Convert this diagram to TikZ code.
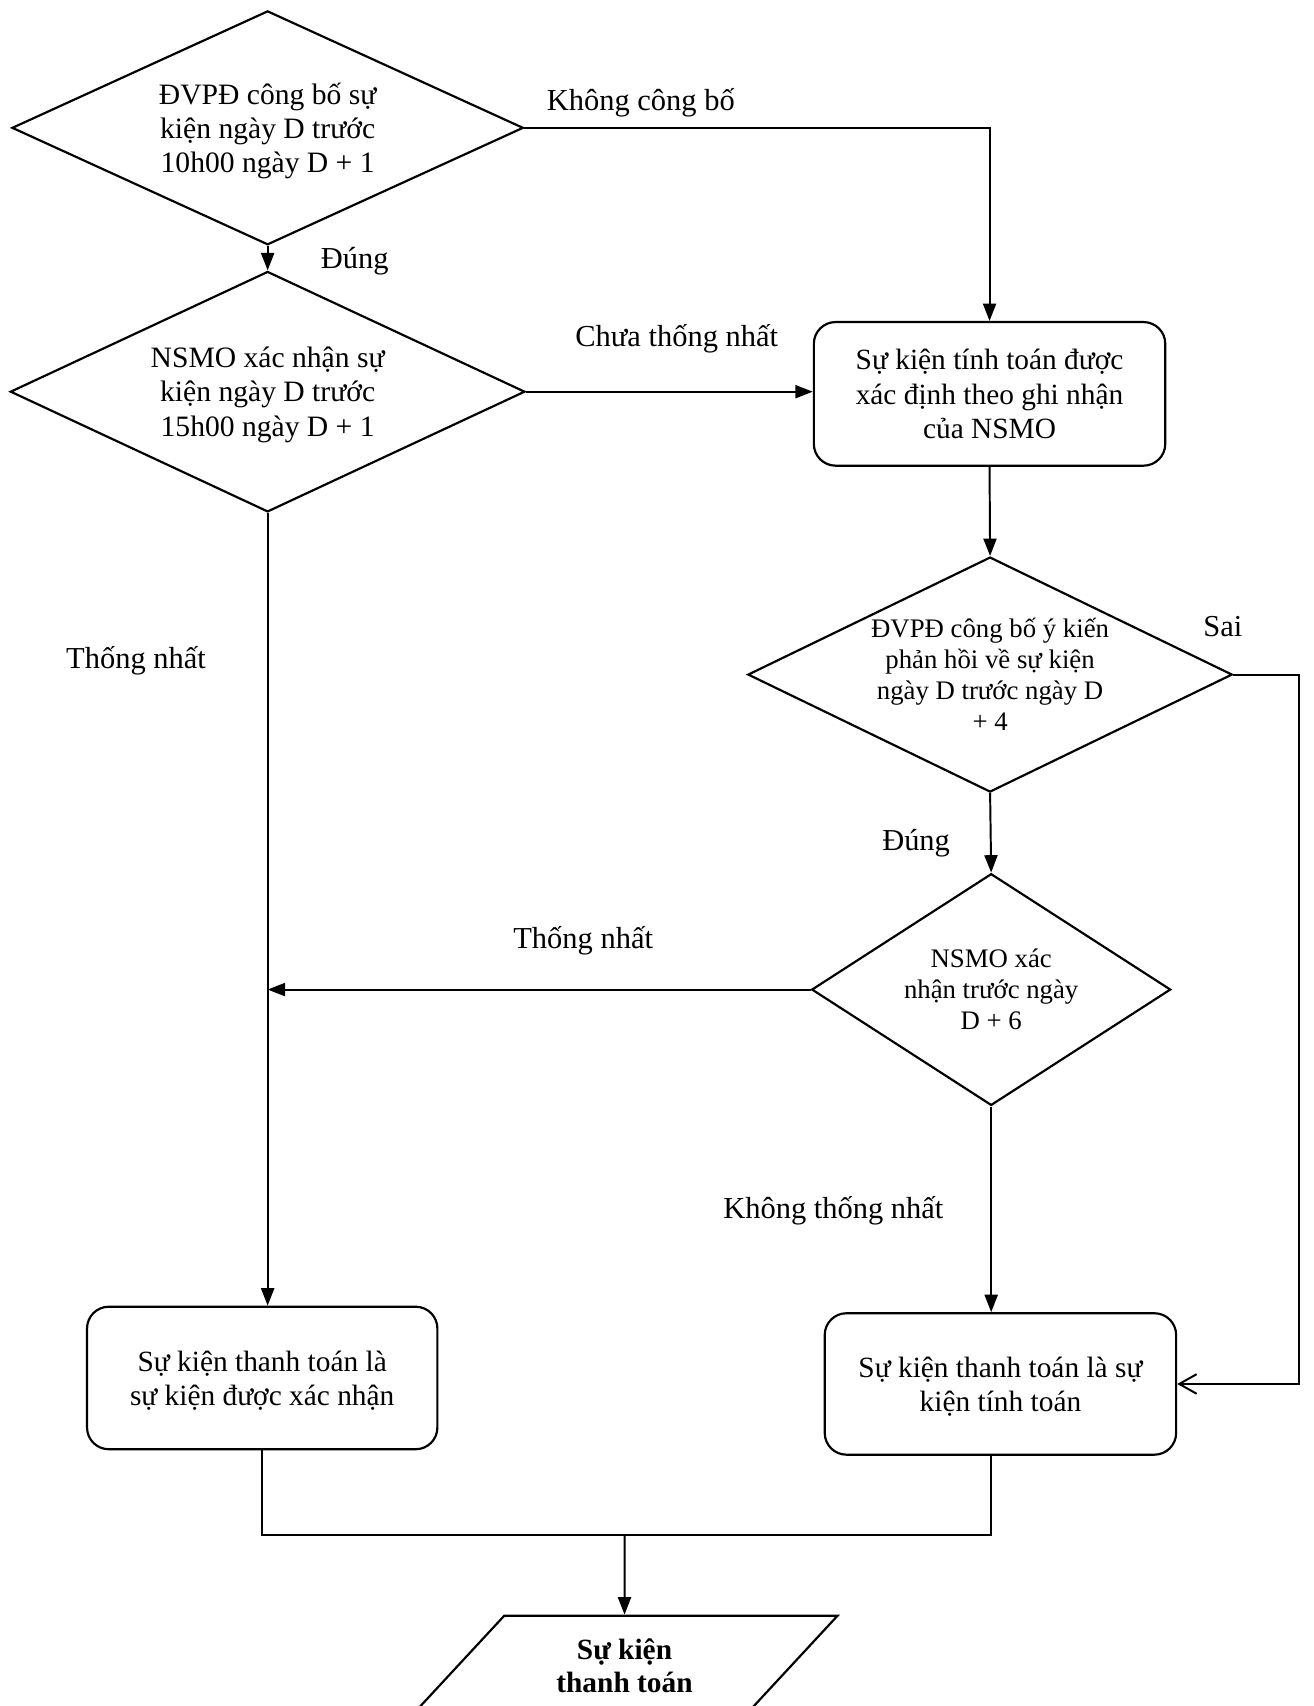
\documentclass[tikz,border=0pt]{standalone}
\usepackage{fontspec}
\setmainfont{Liberation Serif}
\usetikzlibrary{shapes.geometric,arrows.meta,calc}
\begin{document}
\begin{tikzpicture}[x=0.5pt,y=-0.5pt,
  dia/.style={draw,diamond,aspect=2.2,line width=1pt,inner sep=0pt,text depth=0pt,align=center,font=\fontsize{13.6}{15.7}\selectfont},
  dias/.style={dia,font=\fontsize{12.3}{14.2}\selectfont},
  rbox/.style={draw,rectangle,rounded corners=10pt,line width=1pt,align=center,inner sep=0pt,text depth=0pt,font=\fontsize{13.5}{15.7}\selectfont},
  lbl/.style={font=\fontsize{14}{16}\selectfont,inner sep=0pt,text depth=0pt},
  conn/.style={line width=0.9pt},
  arr/.style={conn,-{Triangle[length=8pt,width=6pt]}},
  oarr/.style={conn,-{Straight Barb[length=8pt,width=9pt]}}
]
\useasboundingbox (0,0) rectangle (1207,1568);
\clip (0,0) rectangle (1207,1568);

% decision and process nodes
\node[dia,minimum width=235pt,minimum height=107.5pt] (D1) at (246,117.5)
  {ĐVPĐ công bố sự\\kiện ngày D trước\\10h00 ngày D + 1};
\node[dia,minimum width=236.5pt,minimum height=110.5pt] (D2) at (246,360)
  {NSMO xác nhận sự\\kiện ngày D trước\\15h00 ngày D + 1};
\node[rbox,minimum width=161.5pt,minimum height=66pt] (B1) at (909.5,362)
  {Sự kiện tính toán được\\xác định theo ghi nhận\\của NSMO};
\node[dias,minimum width=221pt,minimum height=108pt] (D3) at (910,620)
  {ĐVPĐ công bố ý kiến\\phản hồi về sự kiện\\ngày D trước ngày D\\+ 4};
\node[dias,aspect=1.55,minimum width=165pt,minimum height=106.5pt] (D4) at (911,909.5)
  {NSMO xác\\nhận trước ngày\\D + 6};
\node[rbox,minimum width=161pt,minimum height=65.5pt] (B2) at (241,1266.5)
  {Sự kiện thanh toán là\\sự kiện được xác nhận};
\node[rbox,minimum width=161.5pt,minimum height=65pt] (B3) at (919.5,1272)
  {Sự kiện thanh toán là sự\\kiện tính toán};
\node[draw,trapezium,trapezium left angle=46,trapezium right angle=134,
  trapezium stretches=true,minimum width=196pt,minimum height=46pt,
  line width=1pt,align=center,inner sep=0pt,text depth=0pt,
  font=\bfseries\fontsize{13.5}{15.5}\selectfont] (out) at (574,1531)
  {Sự kiện\\thanh toán};

% helper coordinates
\coordinate (sr) at (1194,0);
\coordinate (j) at (D2.south |- D4.west);
\coordinate (m) at (574,1411);

% connectors
\draw[arr] (D1.south) -- (D2.north);
\draw[arr] (D1.east) -| (B1.north);
\draw[arr] (D2.east) -- (D2.east -| B1.west);
\draw[arr] (B1.south) -- (D3.north);
\draw[oarr] (D3.east) -- (D3.east -| sr) |- (B3.east);
\draw[arr] (D3.south) -- (D4.north);
\draw[arr] (D4.west) -- (j);
\draw[arr] (D2.south) -- (D2.south |- B2.north);
\draw[arr] (D4.south) -- (D4.south |- B3.north);
\draw[conn] (B2.south) |- (m);
\draw[conn] (D4.south |- B3.south) |- (m);
\draw[arr] (m) -- (out.north);

% labels
\node[lbl] (l1) at (589,91) {Không công bố};
\node[lbl] (l2) at (326,237) {Đúng};
\node[lbl] (l3) at (622,308) {Chưa thống nhất};
\node[lbl] (l4) at (125,604) {Thống nhất};
\node[lbl] (l5) at (1124,576) {Sai};
\node[lbl] (l6) at (842,772) {Đúng};
\node[lbl] (l7) at (536,862) {Thống nhất};
\node[lbl] (l8) at (766,1110) {Không thống nhất};
\end{tikzpicture}
\end{document}
